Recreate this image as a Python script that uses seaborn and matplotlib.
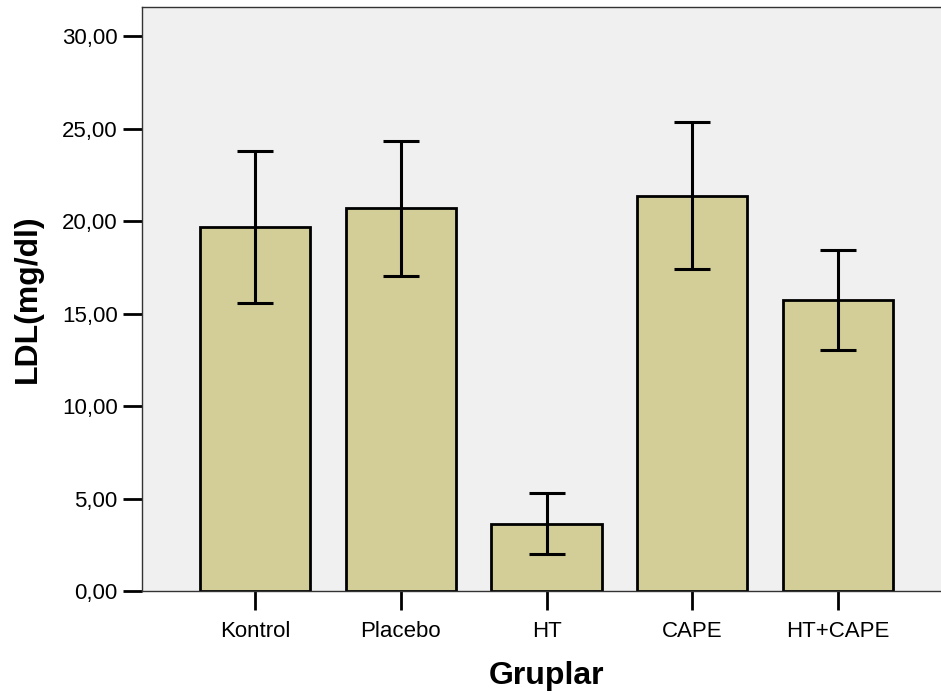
import numpy as np
import pandas as pd
import seaborn as sns
import matplotlib.pyplot as plt

# group means and 95% CI bounds
groups = ["Kontrol", "Placebo", "HT", "CAPE", "HT+CAPE"]
ldl_mean = [19.70, 20.68, 3.64, 21.38, 15.74]
ci_low = [15.58, 17.04, 2.00, 17.43, 13.01]
ci_high = [23.80, 24.33, 5.28, 25.33, 18.43]
y_ticks = [0, 5, 10, 15, 20, 25, 30]
y_tick_labels = ["0,00", "5,00", "10,00", "15,00", "20,00", "25,00", "30,00"]

df = pd.DataFrame({"group": groups, "mean": ldl_mean, "low": ci_low, "high": ci_high})

sns.set_theme(style="white")
plt.rcParams["font.family"] = ["Liberation Sans", "DejaVu Sans"]
plt.rcParams["text.color"] = "black"
plt.rcParams["axes.labelcolor"] = "black"
plt.rcParams["xtick.color"] = "black"
plt.rcParams["ytick.color"] = "black"

fig = plt.figure(figsize=(9.41, 7), dpi=100)
ax = fig.add_axes([142 / 941, 109 / 700, 809 / 941, 584 / 700])
ax.set_facecolor("#F0F0F0")

sns.barplot(
    data=df, x="group", y="mean",
    color="#D3CE98", saturation=1, width=0.755,
    edgecolor="black", linewidth=2.0,
    errorbar=None, ax=ax
)

ax.errorbar(
    np.arange(len(groups)), df["mean"],
    yerr=[df["mean"] - df["low"], df["high"] - df["mean"]],
    fmt="none", ecolor="black", elinewidth=2.2, capsize=13, capthick=2.2
)

ax.set_xlim(-0.776, 4.776)
ax.set_ylim(0, 31.57)
ax.set_yticks(y_ticks)
ax.set_yticklabels(y_tick_labels)

ax.tick_params(axis="both", length=13.5, width=2.0, color="black",
               labelsize=16, labelcolor="black", direction="out", pad=4,
               left=True, bottom=True)
ax.tick_params(axis="x", pad=8)

for s in ax.spines.values():
    s.set_color("#333333")
    s.set_linewidth(1.0)

ax.set_xlabel("Gruplar", fontsize=23, fontweight="bold", labelpad=14)
ax.set_ylabel("LDL(mg/dl)", fontsize=23, fontweight="bold", labelpad=14)

fig.savefig("out.png", dpi=100)
